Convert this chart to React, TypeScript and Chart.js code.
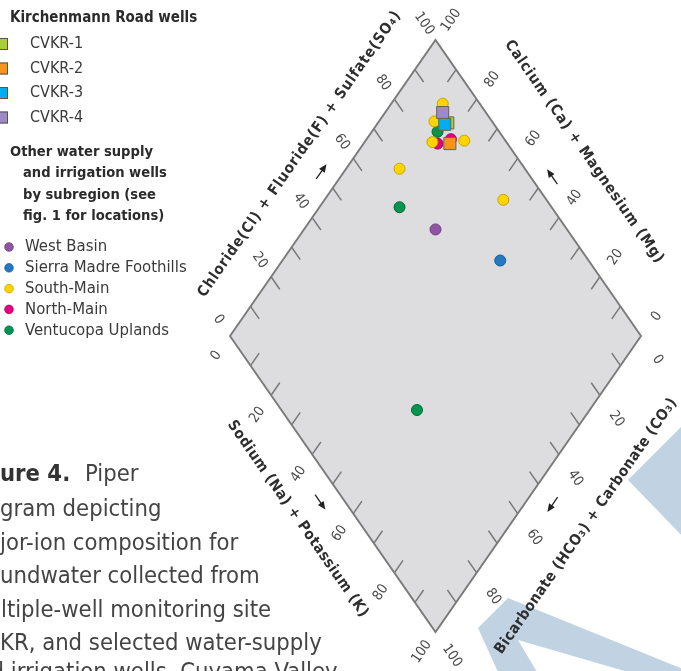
import React, { useEffect, useRef } from 'react';
import { Chart, registerables } from 'chart.js';

Chart.register(...registerables);

// ---- Data: percent of total anions (Cl + F + SO4) and percent of total cations (Na + K) ----
const CVKR1_ANION = [89];
const CVKR1_CATION = [17];
const CVKR2_ANION = [86];
const CVKR2_CATION = [21];
const CVKR3_ANION = [88];
const CVKR3_CATION = [16.5];
const CVKR4_ANION = [89.5];
const CVKR4_CATION = [14];

const WEST_BASIN_ANION = [68];
const WEST_BASIN_CATION = [32];
const SIERRA_MADRE_ANION = [78.5];
const SIERRA_MADRE_CATION = [53];
const SOUTH_MAIN_ANION = [91, 82, 90, 69.5, 89.5, 86];
const SOUTH_MAIN_CATION = [12.5, 16.5, 24, 13, 43.5, 13.5];
const NORTH_MAIN_ANION = [83, 87];
const NORTH_MAIN_CATION = [18, 20.5];
const VENTUCOPA_ANION = [63, 33, 85];
const VENTUCOPA_CATION = [19.5, 58, 16];

const AXIS_TICKS = [0, 20, 40, 60, 80, 100];
const MINOR_TICKS = [10, 20, 30, 40, 50, 60, 70, 80, 90];

const WELL_LABELS = ['CVKR-1', 'CVKR-2', 'CVKR-3', 'CVKR-4'];
const WELL_COLORS = ['#a8cf3a', '#f7941d', '#00aeef', '#9d8bc6'];
const REGION_LABELS = ['West Basin', 'Sierra Madre Foothills', 'South-Main', 'North-Main', 'Ventucopa Uplands'];
const REGION_COLORS = ['#8f55a3', '#2479c0', '#ffd400', '#e5007d', '#00964f'];
const REGION_BORDERS = ['#6d3f80', '#1a5c94', '#c9a200', '#a8005c', '#006b38'];

const TITLE_CL = 'Chloride(Cl) + Fluoride(F) + Sulfate(SO\u2084)';
const TITLE_CA = 'Calcium (Ca) + Magnesium (Mg)';
const TITLE_NA = 'Sodium (Na) + Potassium (K)';
const TITLE_HCO3 = 'Bicarbonate (HCO\u2083) + Carbonate (CO\u2083)';

const CAPTION_LINES = [
  'diagram depicting',
  'major-ion composition for',
  'groundwater collected from',
  'multiple-well monitoring site',
  'CVKR, and selected water-supply',
  'and irrigation wells, Cuyama Valley,',
];
const CAPTION_HIDDEN = ['dia', 'ma', 'gro', 'mu', 'CV', 'an'];

const W = 681;
const H = 671;
const NARROW = "'Liberation Sans Narrow','Arial Narrow','DejaVu Sans Condensed','Roboto',sans-serif";

const toXY = (anion: number[], cation: number[]) =>
  anion.map((a, i) => ({ x: a + cation[i], y: a - cation[i] }));

function rtext(ctx: CanvasRenderingContext2D, s: string, x: number, y: number, ang: number, font: string, color: string, target?: number) {
  ctx.save();
  ctx.translate(x, y);
  ctx.rotate(ang);
  ctx.font = font;
  (ctx as any).letterSpacing = '0px';
  if (target) {
    const w = ctx.measureText(s).width;
    const ls = (target - w) / s.length;
    (ctx as any).letterSpacing = ls.toFixed(2) + 'px';
  }
  ctx.fillStyle = color;
  ctx.textAlign = 'center';
  ctx.textBaseline = 'middle';
  ctx.fillText(s, 0, 0);
  ctx.restore();
}

function arrow(ctx: CanvasRenderingContext2D, cx: number, cy: number, dx: number, dy: number) {
  const len = 9;
  const x0 = cx - dx * len, y0 = cy - dy * len;
  const x1 = cx + dx * len, y1 = cy + dy * len;
  ctx.save();
  ctx.strokeStyle = '#222';
  ctx.fillStyle = '#222';
  ctx.lineWidth = 1.3;
  ctx.beginPath();
  ctx.moveTo(x0, y0);
  ctx.lineTo(x1 - dx * 5, y1 - dy * 5);
  ctx.stroke();
  const px = -dy, py = dx;
  ctx.beginPath();
  ctx.moveTo(x1, y1);
  ctx.lineTo(x1 - dx * 8 + px * 3.5, y1 - dy * 8 + py * 3.5);
  ctx.lineTo(x1 - dx * 8 - px * 3.5, y1 - dy * 8 - py * 3.5);
  ctx.closePath();
  ctx.fill();
  ctx.restore();
}

const piperPlugin = {
  id: 'piperFrame',
  beforeDatasetsDraw(chart: any) {
    const ctx: CanvasRenderingContext2D = chart.ctx;
    const xs = chart.scales.x;
    const ys = chart.scales.y;
    const P = (a: number, n: number) => ({ x: xs.getPixelForValue(a + n), y: ys.getPixelForValue(a - n) });

    ctx.save();
    ctx.fillStyle = '#ffffff';
    ctx.fillRect(0, 0, W, H);

    // decorative page shapes (bottom right)
    ctx.fillStyle = '#c1d3e3';
    ctx.beginPath();
    ctx.moveTo(628, 480);
    ctx.lineTo(690, 418);
    ctx.lineTo(690, 544);
    ctx.closePath();
    ctx.fill();
    ctx.beginPath();
    ctx.moveTo(508, 598);
    ctx.lineTo(690, 672);
    ctx.lineTo(628, 672);
    ctx.lineTo(518, 640);
    ctx.lineTo(537, 672);
    ctx.lineTo(498, 672);
    ctx.lineTo(478, 628);
    ctx.closePath();
    ctx.fill();

    const L = P(0, 0), T = P(100, 0), R = P(100, 100), B = P(0, 100);
    const norm = (v: { x: number; y: number }) => {
      const d = Math.hypot(v.x, v.y);
      return { x: v.x / d, y: v.y / d };
    };
    const uT = norm({ x: T.x - L.x, y: T.y - L.y });
    const uB = norm({ x: B.x - L.x, y: B.y - L.y });
    const angT = Math.atan2(uT.y, uT.x);
    const angB = Math.atan2(uB.y, uB.x);

    // diamond
    ctx.beginPath();
    ctx.moveTo(L.x, L.y);
    ctx.lineTo(T.x, T.y);
    ctx.lineTo(R.x, R.y);
    ctx.lineTo(B.x, B.y);
    ctx.closePath();
    ctx.fillStyle = '#dddde0';
    ctx.fill();

    ctx.strokeStyle = '#7a7a7a';
    ctx.lineWidth = 1.5;
    ctx.beginPath();
    const tk = 4.2;
    MINOR_TICKS.forEach((t) => {
      let p = P(t, 0), q = P(t, tk);
      ctx.moveTo(p.x, p.y); ctx.lineTo(q.x, q.y);
      p = P(100, t); q = P(100 - tk, t);
      ctx.moveTo(p.x, p.y); ctx.lineTo(q.x, q.y);
      p = P(0, t); q = P(tk, t);
      ctx.moveTo(p.x, p.y); ctx.lineTo(q.x, q.y);
      p = P(t, 100); q = P(t, 100 - tk);
      ctx.moveTo(p.x, p.y); ctx.lineTo(q.x, q.y);
    });
    ctx.stroke();
    ctx.lineWidth = 1.9;
    ctx.beginPath();
    ctx.moveTo(L.x, L.y);
    ctx.lineTo(T.x, T.y);
    ctx.lineTo(R.x, R.y);
    ctx.lineTo(B.x, B.y);
    ctx.closePath();
    ctx.stroke();

    // tick labels
    const lf = `14px ${NARROW}`;
    const lc = '#4a4a4a';
    AXIS_TICKS.forEach((v) => {
      let p = P(v, 0);
      rtext(ctx, String(v), p.x - uB.x * 20, p.y - uB.y * 20, angB, lf, lc);
      p = P(100, 100 - v);
      rtext(ctx, String(v), p.x + uT.x * 24 + 2, p.y + uT.y * 24, angT, lf, lc);
      p = P(0, v);
      rtext(ctx, String(v), p.x - uT.x * 24, p.y - uT.y * 24, angT, lf, lc);
      p = P(100 - v, 100);
      rtext(ctx, String(v), p.x + uB.x * 29, p.y + uB.y * 29, angB, lf, lc);
    });

    // arrows
    let m = P(50, 0);
    arrow(ctx, m.x - uB.x * 20, m.y - uB.y * 20, uT.x, uT.y);
    m = P(100, 50);
    arrow(ctx, m.x + uT.x * 21 + 2, m.y + uT.y * 21 + 6, -uB.x, -uB.y);
    m = P(0, 50);
    arrow(ctx, m.x - uT.x * 22, m.y - uT.y * 22, uB.x, uB.y);
    m = P(50, 100);
    arrow(ctx, m.x + uB.x * 25, m.y + uB.y * 25, -uT.x, -uT.y);

    // axis titles
    const tf = `bold 15px ${NARROW}`;
    const tc = '#2e2e2e';
    const mUL = P(50, 0), mUR = P(100, 50), mLL = P(0, 50), mLR = P(50, 100);
    rtext(ctx, TITLE_CL, mUL.x - 33, mUL.y - 34, angT, tf, tc, 345);
    rtext(ctx, TITLE_CA, mUR.x + 46, mUR.y - 36, angB, tf, tc, 268);
    rtext(ctx, TITLE_NA, mLL.x - 35, mLL.y + 35, angB, tf, tc, 236);
    rtext(ctx, TITLE_HCO3, mLR.x + 48, mLR.y + 42, angT, tf, tc, 308);

    // legend
    ctx.textAlign = 'left';
    ctx.textBaseline = 'middle';
    (ctx as any).letterSpacing = '0px';
    ctx.fillStyle = '#2b2b2b';
    ctx.font = `bold 15px ${NARROW}`;
    ctx.fillText('Kirchenmann Road wells', 10, 18);
    WELL_LABELS.forEach((lab, i) => {
      const y = 44 + i * 24.5;
      ctx.fillStyle = WELL_COLORS[i];
      ctx.fillRect(-4, y - 6, 12, 12);
      ctx.strokeStyle = '#55554a';
      ctx.lineWidth = 1;
      ctx.strokeRect(-4 + 0.5, y - 6 + 0.5, 11, 11);
      ctx.fillStyle = '#3a3a3a';
      ctx.font = `16px ${NARROW}`;
      ctx.fillText(lab, 30, y);
    });
    ctx.fillStyle = '#2b2b2b';
    ctx.font = `bold 14.6px ${NARROW}`;
    ctx.fillText('Other water supply', 10, 152);
    ctx.fillText('and irrigation wells', 23, 173);
    ctx.fillText('by subregion (see', 23, 195);
    ctx.fillText('fig. 1 for locations)', 23, 216);
    REGION_LABELS.forEach((lab, i) => {
      const y = 247 + i * 20.8;
      ctx.beginPath();
      ctx.arc(9, y, 4.3, 0, Math.PI * 2);
      ctx.fillStyle = REGION_COLORS[i];
      ctx.fill();
      ctx.strokeStyle = REGION_BORDERS[i];
      ctx.lineWidth = 0.8;
      ctx.stroke();
      ctx.fillStyle = '#3a3a3a';
      ctx.font = `16.6px ${NARROW}`;
      ctx.fillText(lab, 25, y);
    });

    // caption (cropped at the left edge of the page)
    ctx.textBaseline = 'alphabetic';
    ctx.fillStyle = '#333';
    ctx.font = `bold 23.6px ${NARROW}`;
    const figOff = ctx.measureText('Fig').width;
    ctx.fillText('Figure 4.', -figOff, 481);
    ctx.fillStyle = '#444';
    ctx.font = `23.6px ${NARROW}`;
    ctx.fillText('Piper', 85, 481);
    CAPTION_LINES.forEach((line, i) => {
      let off = ctx.measureText(CAPTION_HIDDEN[i]).width;
      if (i === CAPTION_LINES.length - 1) off += ctx.measureText('d').width * 0.7;
      if (i === 3) off -= 1;
      const y = i === CAPTION_LINES.length - 1 ? 679 : 516 + i * 33.5;
      ctx.fillText(line, -off, y);
    });
    ctx.restore();
  },
};

const pt = (color: string, border: string, style: string, radius: number) => ({
  backgroundColor: color,
  borderColor: border,
  borderWidth: 1,
  pointStyle: style,
  pointRadius: radius,
  pointHoverRadius: radius,
});

export default function App() {
  const ref = useRef<HTMLCanvasElement>(null);
  useEffect(() => {
    if (!ref.current) return;
    const datasets: any[] = [
      { label: WELL_LABELS[0], data: toXY(CVKR1_ANION, CVKR1_CATION), ...pt(WELL_COLORS[0], '#66664a', 'rect', 8.5), order: 4 },
      { label: WELL_LABELS[1], data: toXY(CVKR2_ANION, CVKR2_CATION), ...pt(WELL_COLORS[1], '#66664a', 'rect', 8.5), order: 1 },
      { label: WELL_LABELS[2], data: toXY(CVKR3_ANION, CVKR3_CATION), ...pt(WELL_COLORS[2], '#66664a', 'rect', 8.5), order: 2 },
      { label: WELL_LABELS[3], data: toXY(CVKR4_ANION, CVKR4_CATION), ...pt(WELL_COLORS[3], '#66664a', 'rect', 8.5), order: 3 },
      { label: REGION_LABELS[0], data: toXY(WEST_BASIN_ANION, WEST_BASIN_CATION), ...pt(REGION_COLORS[0], REGION_BORDERS[0], 'circle', 5.5), order: 9 },
      { label: REGION_LABELS[1], data: toXY(SIERRA_MADRE_ANION, SIERRA_MADRE_CATION), ...pt(REGION_COLORS[1], REGION_BORDERS[1], 'circle', 5.5), order: 9 },
      { label: REGION_LABELS[2], data: toXY(SOUTH_MAIN_ANION, SOUTH_MAIN_CATION), ...pt(REGION_COLORS[2], REGION_BORDERS[2], 'circle', 5.5), order: 6 },
      { label: REGION_LABELS[3], data: toXY(NORTH_MAIN_ANION, NORTH_MAIN_CATION), ...pt(REGION_COLORS[3], REGION_BORDERS[3], 'circle', 5.5), order: 7 },
      { label: REGION_LABELS[4], data: toXY(VENTUCOPA_ANION, VENTUCOPA_CATION), ...pt(REGION_COLORS[4], REGION_BORDERS[4], 'circle', 5.5), order: 8 },
    ];
    const chart = new Chart(ref.current, {
      type: 'scatter',
      data: { datasets },
      options: {
        animation: false,
        responsive: false,
        devicePixelRatio: 1,
        layout: { padding: { left: 230, right: 40, top: 40, bottom: 39 } },
        scales: {
          x: { type: 'linear', min: 0, max: 200, display: false },
          y: { type: 'linear', min: -100, max: 100, display: false },
        },
        plugins: { legend: { display: false }, tooltip: { enabled: false } },
      },
      plugins: [piperPlugin],
    } as any);
    return () => chart.destroy();
  }, []);
  return (
    <div style={{ position: 'absolute', left: 0, top: 0, width: W, height: H, background: '#fff' }}>
      <canvas ref={ref} width={W} height={H} style={{ display: 'block' }} />
    </div>
  );
}
